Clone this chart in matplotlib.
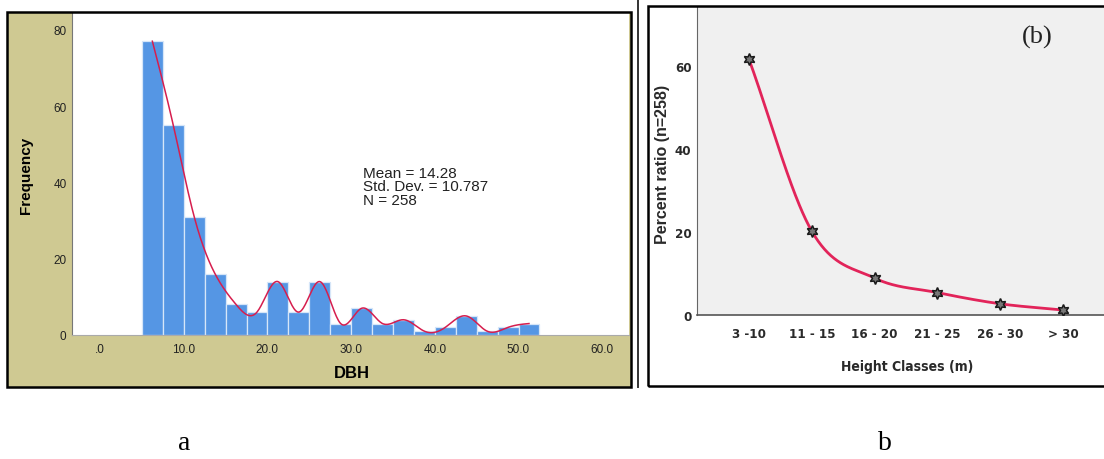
import numpy as np
import matplotlib
matplotlib.use("Agg")
import matplotlib.pyplot as plt
from matplotlib.patches import Rectangle

# ---- data: panel a (DBH histogram) ----
bin_start = 5.0
bin_width = 2.5
dbh_counts = [77, 55, 31, 16, 8, 6, 14, 6, 14, 3, 7, 3, 4, 1, 2, 5, 1, 2, 3]
dbh_ticks = [0, 10, 20, 30, 40, 50, 60]
dbh_tick_labels = [".0", "10.0", "20.0", "30.0", "40.0", "50.0", "60.0"]
freq_ticks = [0, 20, 40, 60, 80]
stats_lines = ["Mean = 14.28", "Std. Dev. = 10.787", "N = 258"]

# ---- data: panel b (height classes) ----
height_classes = ["3 -10", "11 - 15", "16 - 20", "21 - 25", "26 - 30", "> 30"]
percent_ratio = [61.6, 20.2, 8.9, 5.4, 2.7, 1.2]
percent_ticks = [0, 20, 40, 60]

W, H = 1104, 460


def fx(px):
    return px / W


def fy(py):
    return 1 - py / H


def natural_spline(x, y, n=400):
    x = np.asarray(x, float)
    y = np.asarray(y, float)
    k = len(x)
    h = np.diff(x)
    A = np.zeros((k, k))
    b = np.zeros(k)
    A[0, 0] = 1
    A[-1, -1] = 1
    for i in range(1, k - 1):
        A[i, i - 1] = h[i - 1]
        A[i, i] = 2 * (h[i - 1] + h[i])
        A[i, i + 1] = h[i]
        b[i] = 6 * ((y[i + 1] - y[i]) / h[i] - (y[i] - y[i - 1]) / h[i - 1])
    m = np.linalg.solve(A, b)
    xs = np.linspace(x[0], x[-1], n)
    idx = np.clip(np.searchsorted(x, xs) - 1, 0, k - 2)
    x0, x1 = x[idx], x[idx + 1]
    hh = x1 - x0
    t0, t1 = x1 - xs, xs - x0
    ys = (m[idx] * t0 ** 3 + m[idx + 1] * t1 ** 3) / (6 * hh) \
        + (y[idx] / hh - m[idx] * hh / 6) * t0 \
        + (y[idx + 1] / hh - m[idx + 1] * hh / 6) * t1
    return xs, ys


def catmull_rom(x, y, n=400):
    x = np.asarray(x, float)
    y = np.asarray(y, float)
    k = len(x)
    s = np.zeros(k)
    s[0] = (y[1] - y[0]) / (x[1] - x[0])
    s[-1] = (y[-1] - y[-2]) / (x[-1] - x[-2])
    for i in range(1, k - 1):
        s[i] = (y[i + 1] - y[i - 1]) / (x[i + 1] - x[i - 1])
    h = np.diff(x)
    xs = np.linspace(x[0], x[-1], n)
    idx = np.clip(np.searchsorted(x, xs) - 1, 0, k - 2)
    t = (xs - x[idx]) / h[idx]
    h00 = 2 * t ** 3 - 3 * t ** 2 + 1
    h10 = t ** 3 - 2 * t ** 2 + t
    h01 = -2 * t ** 3 + 3 * t ** 2
    h11 = t ** 3 - t ** 2
    ys = h00 * y[idx] + h10 * h[idx] * s[idx] + h01 * y[idx + 1] + h11 * h[idx] * s[idx + 1]
    return xs, ys


fig = plt.figure(figsize=(W / 100, H / 100), dpi=100)

# ---------- panel a ----------
khaki = "#CFC992"
fig.add_artist(Rectangle((fx(7), fy(388)), fx(631) - fx(7), (388 - 13) / H,
                         transform=fig.transFigure, facecolor=khaki,
                         edgecolor="none", zorder=-2))
fig.add_artist(Rectangle((fx(7), fy(388)), fx(631) - fx(7), (388 - 13) / H,
                         transform=fig.transFigure, fill=False,
                         edgecolor="black", lw=1.8, zorder=5))

ax1 = fig.add_axes([fx(72), fy(336), fx(629) - fx(72), (336 - 14) / H])
ax1.set_facecolor("white")
edges = bin_start + bin_width * np.arange(len(dbh_counts))
ax1.bar(edges, dbh_counts, width=bin_width, align="edge",
        color="#5596E4", edgecolor="#D6E6F8", linewidth=0.9)
centers = edges + bin_width / 2
cx, cy = natural_spline(centers, dbh_counts)
ax1.plot(cx, cy, color="#D61E4E", lw=1.1)
ax1.set_xlim(-3.35, 63.2)
ax1.set_ylim(0, 84.4)
ax1.set_xticks(dbh_ticks)
ax1.set_xticklabels(dbh_tick_labels)
ax1.set_yticks(freq_ticks)
ax1.tick_params(length=0, labelsize=8.5, colors="#222222")
ax1.tick_params(axis="x", pad=6)
ax1.tick_params(axis="y", pad=4)
for lab in ax1.get_xticklabels() + ax1.get_yticklabels():
    lab.set_family("Liberation Sans")
for sp in ["top", "right"]:
    ax1.spines[sp].set_visible(False)
ax1.spines["left"].set_color("#777777")
ax1.spines["bottom"].set_color("#AAAAAA")
ax1.spines["left"].set_linewidth(0.8)
ax1.spines["bottom"].set_linewidth(0.8)

for i, line in enumerate(stats_lines):
    fig.text(fx(363), fy(174 + 13.3 * i), line, fontsize=11,
             family="Liberation Sans", color="#222222", va="center", ha="left")

fig.text(fx(26), fy(175), "Frequency", rotation=90, fontsize=11,
         fontweight="bold", family="Liberation Sans", ha="center", va="center")
fig.text(fx(352), fy(374), "DBH", fontsize=12, fontweight="bold",
         family="Liberation Sans", ha="center", va="center")

# divider
fig.add_artist(plt.Line2D([fx(638), fx(638)], [fy(0), fy(388)],
                          transform=fig.transFigure, color="#333333", lw=1.4))

# ---------- panel b ----------
fig.add_artist(Rectangle((fx(648), fy(387)), fx(1120) - fx(648), (387 - 7) / H,
                         transform=fig.transFigure, facecolor="white",
                         edgecolor="none", zorder=-2))
fig.add_artist(Rectangle((fx(648), fy(387)), fx(1120) - fx(648), (387 - 7) / H,
                         transform=fig.transFigure, fill=False,
                         edgecolor="black", lw=1.8, zorder=5))

ax2 = fig.add_axes([fx(697), fy(316), 1 - fx(697), (316 - 8) / H])
ax2.set_facecolor("#F0F0F0")
xi = np.arange(len(height_classes))
px, py = catmull_rom(xi, percent_ratio)
ax2.plot(px, py, color="#E2245A", lw=2.0, zorder=2)
ax2.plot(xi, percent_ratio, linestyle="none", marker=(6, 1, 0), markersize=8.5,
         markerfacecolor="#777777", markeredgecolor="#1A1A1A", mew=1.1, zorder=3)
ax2.set_xlim(-0.828, 5.653)
ax2.set_ylim(0, 74.2)
ax2.set_xticks(xi)
ax2.set_xticklabels(height_classes)
ax2.set_yticks(percent_ticks)
ax2.tick_params(length=0, labelsize=9.5, colors="#2A2A2A")
ax2.tick_params(axis="x", pad=9)
ax2.tick_params(axis="y", pad=4)
for lab in ax2.get_xticklabels() + ax2.get_yticklabels():
    lab.set_family("DejaVu Sans")
    lab.set_stretch("condensed")
    lab.set_fontweight("bold")
for sp in ["top", "right"]:
    ax2.spines[sp].set_visible(False)
ax2.spines["left"].set_color("#666666")
ax2.spines["left"].set_linewidth(0.8)
ax2.spines["bottom"].set_color("#555555")
ax2.spines["bottom"].set_linewidth(1.2)

fig.text(fx(662), fy(164), "Percent ratio (n=258)", rotation=90, fontsize=11.5,
         fontweight="bold", family="Liberation Sans", color="#2A2A2A",
         ha="center", va="center")
fig.text(fx(907), fy(367), "Height Classes (m)", fontsize=10, fontweight="bold",
         family="DejaVu Sans", stretch="condensed", color="#2A2A2A",
         ha="center", va="center")
fig.text(fx(1037), fy(37), "(b)", fontsize=19, family="Liberation Serif",
         color="#222222", ha="center", va="center")

# panel captions
fig.text(fx(184), fy(444), "a", fontsize=20, family="Liberation Serif",
         ha="center", va="center")
fig.text(fx(885), fy(444), "b", fontsize=20, family="Liberation Serif",
         ha="center", va="center")

fig.savefig("out.png", dpi=100)
